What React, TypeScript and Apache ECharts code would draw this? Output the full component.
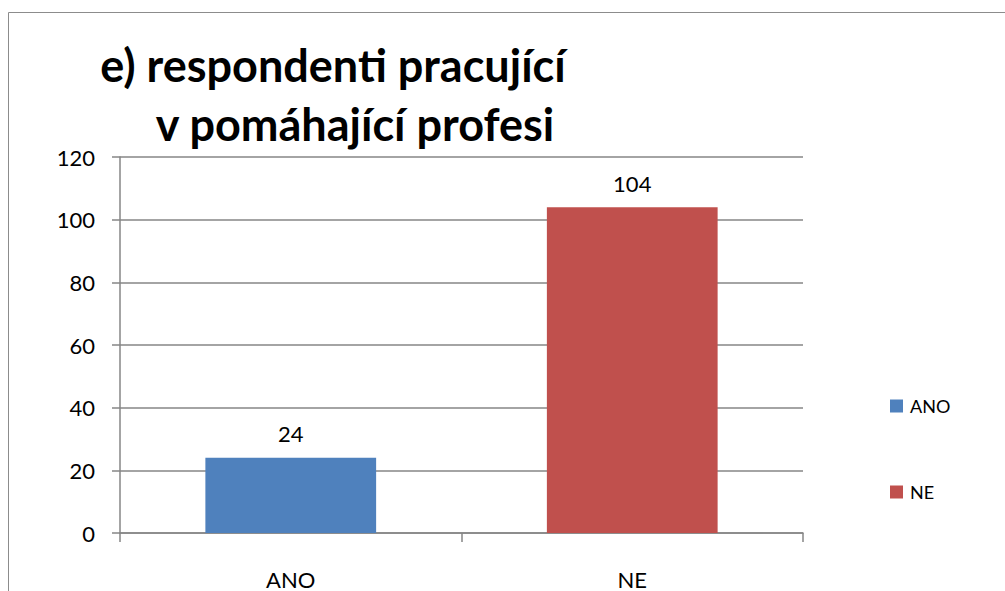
import React, { useEffect, useRef } from "react";
import * as echarts from "echarts";

const categories = ["ANO", "NE"];
const seriesNames = ["ANO", "NE"];
const valuesAno = [24, null];
const valuesNe = [null, 104];
const yTicks = [0, 20, 40, 60, 80, 100, 120];
const titleLine1 = "e) respondenti pracující";
const titleLine2 = "v pomáhající profesi";

const FONT = "Lato, 'Open Sans', sans-serif";

export default function App() {
  const ref = useRef<HTMLDivElement>(null);
  useEffect(() => {
    if (!ref.current) return;
    const chart = echarts.init(ref.current, null, { renderer: "svg" });
    const label = {
      show: true,
      position: "top",
      distance: 13,
      color: "#000",
      fontSize: 22,
      fontFamily: FONT,
    };
    chart.setOption({
      animation: false,
      backgroundColor: "#fff",
      title: [
        {
          text: titleLine1,
          left: 328,
          top: 37,
          textAlign: "center",
          textStyle: { fontSize: 45, fontWeight: "bold", fontFamily: FONT, color: "#000" },
        },
        {
          text: titleLine2,
          left: 350,
          top: 96,
          textAlign: "center",
          textStyle: { fontSize: 45, fontWeight: "bold", fontFamily: FONT, color: "#000" },
        },
      ],
      graphic: [
        {
          type: "rect",
          shape: { x: 8.5, y: 12.5, width: 1100, height: 700 },
          style: { fill: "none", stroke: "#8c8c8c", lineWidth: 1 },
          silent: true,
          z: -1,
        },
      ],
      legend: {
        orient: "vertical",
        left: 885,
        top: 392,
        itemGap: 68,
        itemWidth: 13,
        itemHeight: 13,
        icon: "rect",
        data: seriesNames,
        textStyle: { fontSize: 18, fontFamily: FONT, color: "#000", padding: [0, 0, 0, 2] },
      },
      grid: { left: 120, right: 202, top: 157, bottom: 58 },
      xAxis: {
        type: "category",
        data: categories,
        axisLine: { lineStyle: { color: "#868686", width: 1.5 } },
        axisTick: { show: true, length: 9, lineStyle: { color: "#868686", width: 1.5 } },
        axisLabel: { fontSize: 22, fontFamily: FONT, color: "#000", margin: 35 },
      },
      yAxis: {
        type: "value",
        min: yTicks[0],
        max: yTicks[yTicks.length - 1],
        interval: 20,
        axisLine: { show: true, lineStyle: { color: "#868686", width: 1.5 } },
        axisTick: { show: true, length: 8, lineStyle: { color: "#868686", width: 1.5 } },
        axisLabel: { fontSize: 22, fontFamily: FONT, color: "#000", margin: 25 },
        splitLine: { lineStyle: { color: "#868686", width: 1.5 } },
      },
      series: [
        {
          name: seriesNames[0],
          type: "bar",
          stack: "total",
          data: valuesAno,
          barWidth: "50%",
          itemStyle: { color: "#4F81BD" },
          label,
        },
        {
          name: seriesNames[1],
          type: "bar",
          stack: "total",
          data: valuesNe,
          barWidth: "50%",
          itemStyle: { color: "#C0504D" },
          label,
        },
      ],
    });
    return () => chart.dispose();
  }, []);
  return (
    <div
      ref={ref}
      style={{ position: "absolute", left: 0, top: 0, width: 1005, height: 591 }}
    />
  );
}
